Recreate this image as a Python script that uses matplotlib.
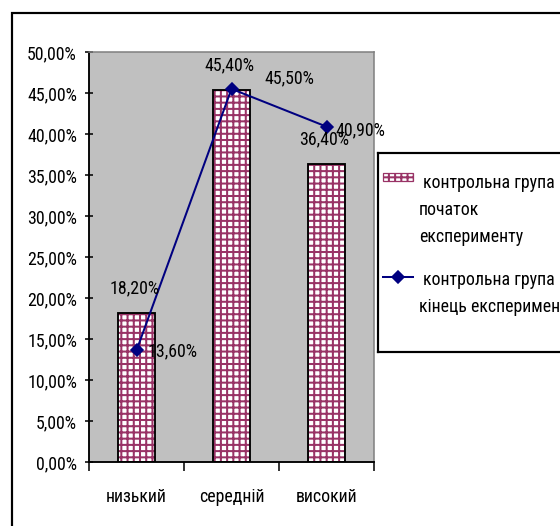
import matplotlib
matplotlib.use("Agg")
import matplotlib.pyplot as plt
from matplotlib.patches import Rectangle
from matplotlib.ticker import FuncFormatter

# categories and both series (percent)
levels = ["низький", "середній", "високий"]
start_vals = [18.2, 45.4, 36.4]
end_vals = [13.6, 45.5, 40.9]
start_name = "контрольна група\nпочаток\nексперименту"
end_name = "контрольна група\nкінець експерименту"

plt.rcParams['font.family'] = ['Roboto Condensed', 'DejaVu Sans']
plt.rcParams['hatch.linewidth'] = 1.3
plt.rcParams['hatch.color'] = '#993366'

W, H, DPI = 560, 526, 112
FS = 11.5
fig = plt.figure(figsize=(W / DPI, H / DPI), dpi=DPI, facecolor='white')

def px_box(x0, y0, x1, y1):
    # pixel box (top-left origin) -> figure fraction rect
    return [x0 / W, 1 - y1 / H, (x1 - x0) / W, (y1 - y0) / H]

# chart area frame, runs off the right and bottom edges
fig.add_artist(Rectangle((12 / W, -0.2), 1.5, 1.2 - 13 / H, transform=fig.transFigure,
                         fill=False, edgecolor='black', linewidth=1.4))

ax = fig.add_axes(px_box(89, 52, 374, 462))
ax.set_facecolor('#C0C0C0')

x = list(range(len(levels)))
# hatch fill first, then the black outline on top
ax.bar(x, start_vals, width=0.39, color='white', edgecolor='#993366', hatch='+++',
       linewidth=0, zorder=2)
ax.bar(x, start_vals, width=0.39, fill=False, edgecolor='black', linewidth=1.2, zorder=3)
ax.plot(x, end_vals, color='#000080', linewidth=1.3, marker='D', markersize=5.5,
        zorder=4)

fmt = lambda v: f"{v:.2f}".replace('.', ',') + '%'

for i, v in enumerate(start_vals):
    ax.annotate(fmt(v), xy=(i, v), xytext=(-2, 24), textcoords='offset pixels',
                ha='center', va='center', fontsize=FS, zorder=5)

end_offsets = [(11, -1), (33, 11), (9, -4)]
for i, v in enumerate(end_vals):
    ax.annotate(fmt(v), xy=(i, v), xytext=end_offsets[i], textcoords='offset pixels',
                ha='left', va='center', fontsize=FS, zorder=5, annotation_clip=False)

ax.set_xlim(-0.5, 2.5)
ax.set_ylim(0, 50)
ax.set_yticks([i * 5 for i in range(11)])
ax.yaxis.set_major_formatter(FuncFormatter(lambda v, p: fmt(v)))
ax.tick_params(axis='y', direction='inout', length=5.5, width=1, pad=5, labelsize=FS)

ax.set_xticks(x)
ax.set_xticklabels(levels, fontsize=FS)
ax.set_xticks([-0.5, 0.5, 1.5, 2.5], minor=True)
ax.tick_params(axis='x', which='major', length=0, pad=17)
ax.tick_params(axis='x', which='minor', direction='out', length=5.5, width=1)

for side in ['left', 'bottom']:
    ax.spines[side].set_color('black')
    ax.spines[side].set_linewidth(1.2)
for side in ['top', 'right']:
    ax.spines[side].set_color('#808080')
    ax.spines[side].set_linewidth(1.0)

# legend box, drawn in pixel coordinates
lg = fig.add_axes(px_box(378, 153, 640, 352))
lg.set_xlim(378, 640)
lg.set_ylim(352, 153)
lg.set_xticks([])
lg.set_yticks([])
for s in lg.spines.values():
    s.set_linewidth(1.4)
    s.set_color('black')
lg.add_patch(Rectangle((383, 173), 30, 8, facecolor='white', edgecolor='#993366',
                       hatch='+++', linewidth=0))
lg.add_patch(Rectangle((383, 173), 30, 8, fill=False, edgecolor='#993366', linewidth=0.8))
lg.plot([383, 413], [277, 277], color='#000080', linewidth=1.3)
lg.plot([398], [277], color='#000080', marker='D', markersize=5.5)

start_lines = start_name.split('\n')
lg.text(423, 183, start_lines[0], fontsize=FS, va='center', ha='left')
lg.text(419, 210, start_lines[1], fontsize=FS, va='center', ha='left')
lg.text(419, 237, start_lines[2], fontsize=FS, va='center', ha='left')
end_lines = end_name.split('\n')
lg.text(423, 280, end_lines[0], fontsize=FS, va='center', ha='left')
lg.text(419, 307, end_lines[1], fontsize=FS, va='center', ha='left')

fig.savefig('out.png', dpi=DPI)
